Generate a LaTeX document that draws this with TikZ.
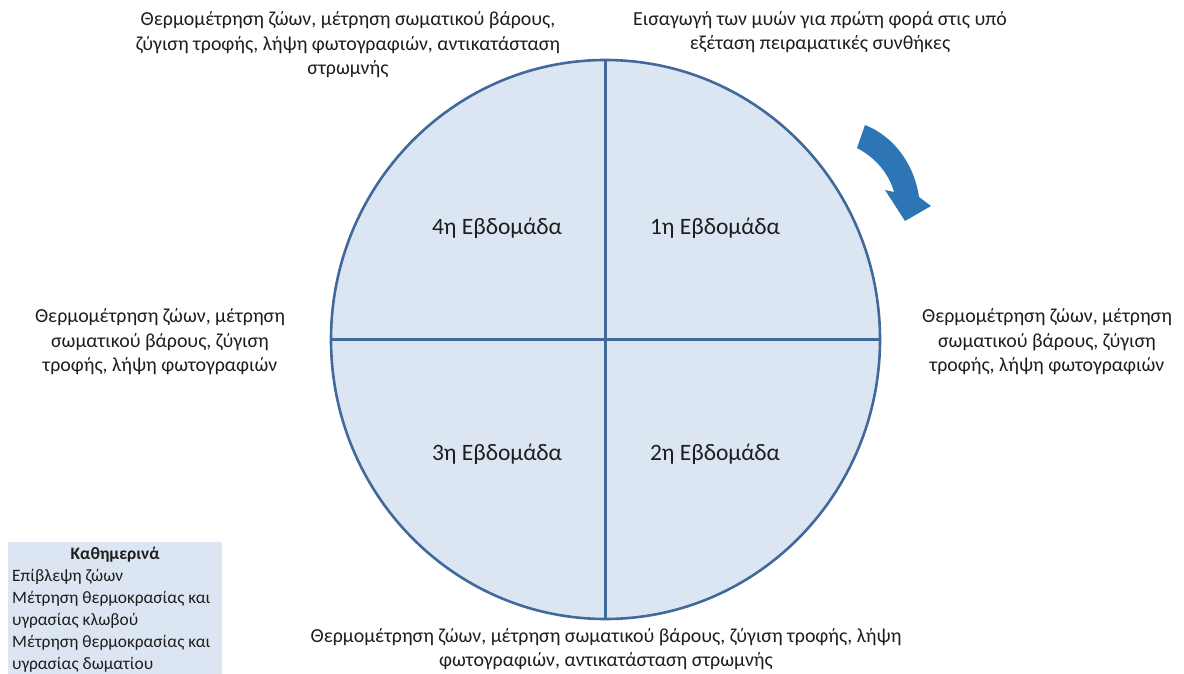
\documentclass[tikz,border=0pt]{standalone}
\usepackage{fontspec}
\setmainfont{Carlito}
\usetikzlibrary{shapes.geometric}
\definecolor{cfill}{RGB}{220,230,242}
\definecolor{cline}{RGB}{65,105,155}
\definecolor{carrow}{RGB}{46,117,182}
\definecolor{ctext}{RGB}{30,30,30}
\tikzset{
  lbl/.style={align=center, text=ctext, font=\fontsize{19.9}{24.5}\selectfont, inner sep=0pt},
  week/.style={text=ctext, font=\fontsize{23.5}{24}\selectfont, inner sep=0pt},
  divider/.style={draw=cline, line width=2.6pt},
}
\begin{document}
\begin{tikzpicture}[x=1pt,y=-1pt]
\useasboundingbox (0,0) rectangle (1184,674);
\node[ellipse, draw=cline, fill=cfill, line width=2.6pt, minimum width=549pt, minimum height=559pt, inner sep=0pt] (c) at (605.5,339.5) {};
\draw[divider] (c.north) -- (c.south);
\draw[divider] (c.west) -- (c.east);
\node[week] (w4) at (497,228) {4η Εβδομάδα};
\node[week] (w1) at (715,228) {1η Εβδομάδα};
\node[week] (w3) at (497,454) {3η Εβδομάδα};
\node[week] (w2) at (715,454) {2η Εβδομάδα};
\node[lbl] (tl) at (348,45) {Θερμομέτρηση ζώων, μέτρηση σωματικού βάρους,\\ζύγιση τροφής, λήψη φωτογραφιών, αντικατάσταση\\στρωμνής};
\node[lbl] (tr) at (820,32) {Εισαγωγή των μυών για πρώτη φορά στις υπό\\εξέταση πειραματικές συνθήκες};
\node[lbl] (l) at (160,342) {Θερμομέτρηση ζώων, μέτρηση\\σωματικού βάρους, ζύγιση\\τροφής, λήψη φωτογραφιών};
\node[lbl] (r) at (1047,342) {Θερμομέτρηση ζώων, μέτρηση\\σωματικού βάρους, ζύγιση\\τροφής, λήψη φωτογραφιών};
\node[lbl] (b) at (606,649) {Θερμομέτρηση ζώων, μέτρηση σωματικού βάρους, ζύγιση τροφής, λήψη\\φωτογραφιών, αντικατάσταση στρωμνής};
\fill[carrow] (865,125) .. controls (893,136) and (914,163) .. (919,197) -- (931,206) -- (905,221) -- (885,190) -- (894,192) .. controls (889,174) and (876,158) .. (857,148) -- cycle;
\fill[cfill] (8,542) rectangle (222,674);
\node[align=left, anchor=north west, text=ctext, font=\fontsize{17.4}{22}\selectfont, inner sep=0pt] (daily) at (12,547) {\makebox[206pt][c]{\bfseries Καθημερινά}\\Επίβλεψη ζώων\\Μέτρηση θερμοκρασίας και\\υγρασίας κλωβού\\Μέτρηση θερμοκρασίας και\\υγρασίας δωματίου};
\end{tikzpicture}
\end{document}
